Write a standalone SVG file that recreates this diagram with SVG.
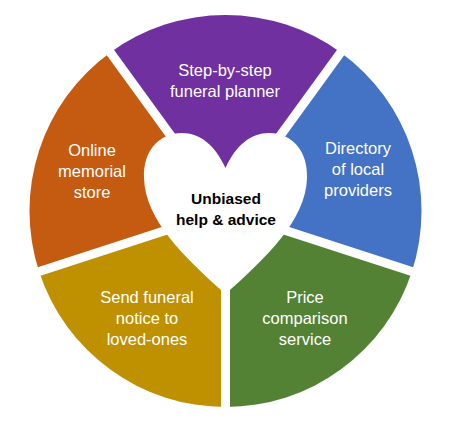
<svg xmlns="http://www.w3.org/2000/svg" width="454" height="428" viewBox="0 0 454 428">
<style>
.lbl{font-family:"Liberation Sans",Arial,sans-serif;font-size:16.5px;fill:#ffffff;text-anchor:middle}
.ctr{font-family:"Liberation Sans",Arial,sans-serif;font-size:15.5px;font-weight:bold;fill:#000000;text-anchor:middle}
.gap{stroke:#ffffff;stroke-width:9;fill:none}
</style>
<rect width="454" height="428" fill="#ffffff"/>
<g id="planner">
<path d="M225.5 211 L110.294 52.433 A196 196 0 0 1 340.706 52.433 Z" fill="#7030A0"/>
<text class="lbl" x="225" y="76">Step-by-step</text>
<text class="lbl" x="225" y="97">funeral planner</text>
</g>
<g id="directory">
<path d="M225.5 211 L340.706 52.433 A196 196 0 0 1 411.907 271.567 Z" fill="#4472C4"/>
<text class="lbl" x="358" y="154">Directory</text>
<text class="lbl" x="358" y="175">of local</text>
<text class="lbl" x="358" y="196">providers</text>
</g>
<g id="price">
<path d="M225.5 211 L411.907 271.567 A196 196 0 0 1 225.5 407 Z" fill="#548235"/>
<text class="lbl" x="305" y="303">Price</text>
<text class="lbl" x="305" y="324">comparison</text>
<text class="lbl" x="305" y="345">service</text>
</g>
<g id="notice">
<path d="M225.5 211 L225.5 407 A196 196 0 0 1 39.093 271.567 Z" fill="#BF9000"/>
<text class="lbl" x="147" y="303">Send funeral</text>
<text class="lbl" x="147" y="324">notice to</text>
<text class="lbl" x="147" y="345">loved-ones</text>
</g>
<g id="memorial">
<path d="M225.5 211 L39.093 271.567 A196 196 0 0 1 110.294 52.433 Z" fill="#C55A11"/>
<text class="lbl" x="92" y="156">Online</text>
<text class="lbl" x="92" y="177">memorial</text>
<text class="lbl" x="92" y="198">store</text>
</g>
<g id="connectors">
<line class="gap" x1="225.5" y1="211" x2="343.1" y2="49.2"/>
<line class="gap" x1="225.5" y1="211" x2="415.7" y2="272.8"/>
<line class="gap" x1="225.5" y1="211" x2="225.5" y2="412"/>
<line class="gap" x1="225.5" y1="211" x2="35.3" y2="272.8"/>
<line class="gap" x1="225.5" y1="211" x2="107.9" y2="49.2"/>
</g>
<g id="center">
<path d="M225.5 168 C215 145 200 133 182 133 C158 133 143 152 144 178 C145 220 185 258 225.5 294 C266 258 306 220 307 178 C308 152 293 133 269 133 C251 133 236 145 225.5 168 Z" fill="#ffffff"/>
<text class="ctr" x="226" y="204">Unbiased</text>
<text class="ctr" x="226" y="225">help &amp; advice</text>
</g>
</svg>
